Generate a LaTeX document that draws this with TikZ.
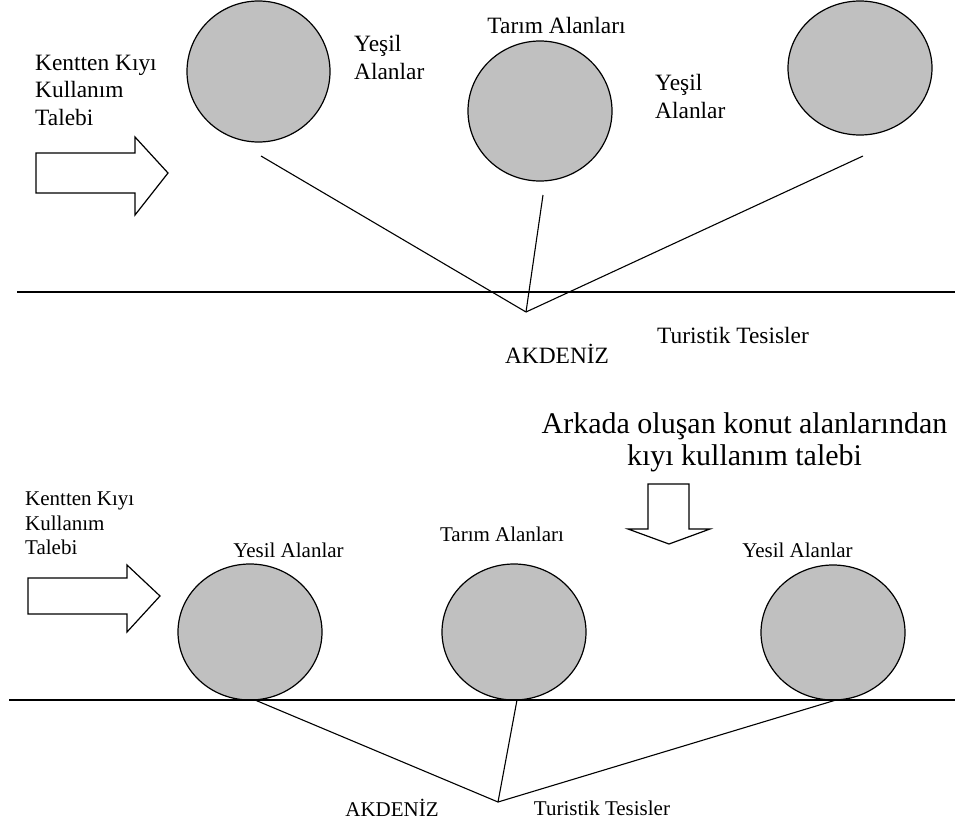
\documentclass[tikz,border=0pt]{standalone}
\usepackage{fontspec}
\setmainfont{Liberation Serif}
\usetikzlibrary{shapes.geometric}
\tikzset{
  blob/.style={ellipse, draw=black, fill={rgb,255:red,192;green,192;blue,192}, line width=1.2pt, inner sep=0pt},
  lnk/.style={line width=1.1pt},
  shore/.style={line width=1.2pt},
  bigarrow/.style={draw=black, fill=white, line width=1.2pt, line join=miter},
  labA/.style={inner sep=0pt, font=\fontsize{23.4}{27.5}\selectfont, align=left},
  labB/.style={inner sep=0pt, font=\fontsize{21}{24.5}\selectfont, align=left},
  labC/.style={inner sep=0pt, font=\fontsize{30}{32}\selectfont, align=center}
}
\begin{document}
\begin{tikzpicture}[x=1pt,y=-1pt]
\useasboundingbox (0,0) rectangle (955,822);

% ---------------- top diagram ----------------
\node[blob, minimum width=143pt, minimum height=141pt] (c1) at (258.5,71.5) {};
\node[blob, minimum width=144pt, minimum height=140pt] (c2) at (540,111) {};
\node[blob, minimum width=144pt, minimum height=134pt] (c3) at (860,68) {};

\coordinate (t1) at (261,156);
\coordinate (t2) at (543,195);
\coordinate (t3) at (863,156);
\coordinate (apexT) at (526,312);
\coordinate (shoreTL) at (17,292);
\coordinate (shoreTR) at (955,292);

\draw[shore] (shoreTL) -- (shoreTR);
\draw[lnk] (t1) -- (apexT);
\draw[lnk] (t2) -- (apexT);
\draw[lnk] (t3) -- (apexT);

\draw[bigarrow] (36,153) -- (135,153) -- (135,137) -- (168,173) -- (135,215) -- (135,193) -- (36,193) -- cycle;

\node[labA, anchor=west] (kentT) at (35,90) {Kentten Kıyı\\Kullanım\\Talebi};
\node[labA, anchor=west] (yesil1) at (354,57.5) {Yeşil\\Alanlar};
\node[labA] (tarimT) at (556.5,25) {Tarım Alanları};
\node[labA, anchor=west] (yesil2) at (655,96.5) {Yeşil\\Alanlar};
\node[labA] (turT) at (733,335) {Turistik Tesisler};
\node[labA] (akdT) at (557,354) {AKDENİZ};

% ---------------- middle text ----------------
\node[labC] (konut) at (744.5,442) {Arkada oluşan konut alanlarından\\kıyı kullanım talebi};

% ---------------- bottom diagram ----------------
\node[blob, minimum width=144pt, minimum height=136pt] (b1) at (250,632) {};
\node[blob, minimum width=144pt, minimum height=136pt] (b2) at (514,632) {};
\node[blob, minimum width=144pt, minimum height=135pt] (b3) at (833,632.5) {};

\coordinate (s1) at (255,700);
\coordinate (s2) at (517,700);
\coordinate (s3) at (836,700);
\coordinate (apexB) at (498,802);
\coordinate (shoreBL) at (9,700);
\coordinate (shoreBR) at (955,700);

\draw[shore] (shoreBL) -- (shoreBR);
\draw[lnk] (s1) -- (apexB);
\draw[lnk] (s2) -- (apexB);
\draw[lnk] (s3) -- (apexB);

\draw[bigarrow] (28,578) -- (127,578) -- (127,565) -- (160,596) -- (127,632) -- (127,614) -- (28,614) -- cycle;
\draw[bigarrow] (648,484) -- (689,484) -- (689,529) -- (710,529) -- (669,544) -- (628,529) -- (648,529) -- cycle;

\node[labB, anchor=west] (kentB) at (25,523.5) {Kentten Kıyı\\Kullanım\\Talebi};
\node[labB] (yesB1) at (288.5,550) {Yesil Alanlar};
\node[labB] (tarimB) at (502,534) {Tarım Alanları};
\node[labB] (yesB3) at (797.5,550) {Yesil Alanlar};
\node[labB] (akdB) at (392,808) {AKDENİZ};
\node[labB] (turB) at (602,808) {Turistik Tesisler};
\end{tikzpicture}
\end{document}
